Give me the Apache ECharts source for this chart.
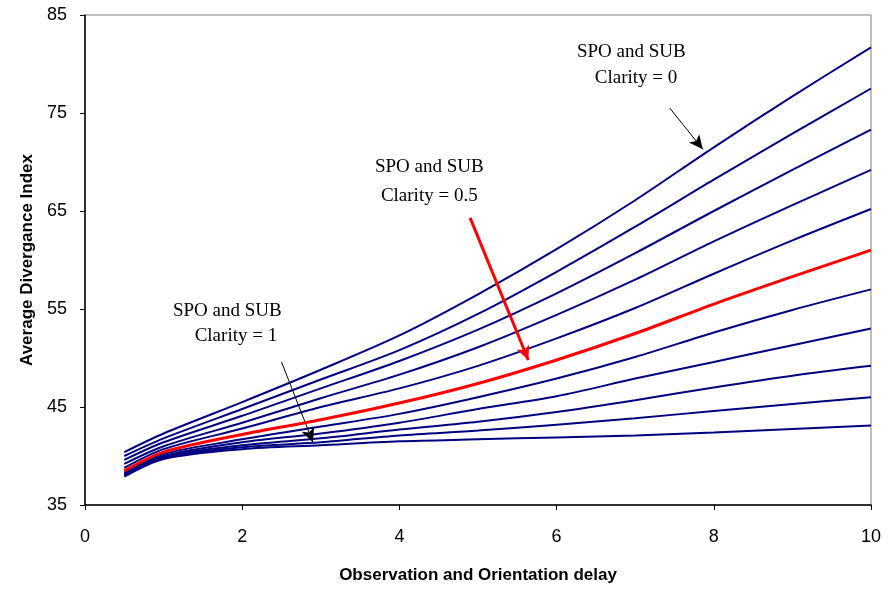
<!DOCTYPE html>
<html lang="en">
<head>
    <meta charset="UTF-8">
    <title>Average Divergance Index</title>
    <script src="https://cdn.jsdelivr.net/npm/echarts@6/dist/echarts.min.js"></script>
    <style>
        html, body { margin: 0; padding: 0; background: #fff; }
        #main { width: 888px; height: 589px; }
    </style>
</head>
<body>
<div id="main"></div>
<script>
// observation and orientation delay
var delays = [0.5, 1, 2, 3, 4, 5, 6, 7, 8, 9, 10];

// one curve per clarity level, 0 at the top, 1 at the bottom
var clarity00 = [40.4, 42.3, 45.5, 48.8, 52.3, 56.5, 61.1, 66.1, 71.5, 76.7, 81.7];
var clarity01 = [40.0, 41.8, 44.8, 47.8, 50.8, 54.5, 58.8, 63.4, 68.2, 72.9, 77.5];
var clarity02 = [39.6, 41.4, 44.1, 46.9, 49.7, 52.9, 56.6, 60.7, 65.0, 69.2, 73.3];
var clarity03 = [39.2, 41.0, 43.4, 45.9, 48.3, 51.1, 54.4, 58.0, 61.9, 65.6, 69.2];
var clarity04 = [38.8, 40.7, 42.8, 45.0, 46.9, 49.2, 52.0, 55.1, 58.6, 62.0, 65.2];
var clarity05 = [38.5, 40.4, 42.2, 43.7, 45.4, 47.4, 49.8, 52.5, 55.5, 58.3, 61.0];
var clarity06 = [38.3, 40.2, 41.7, 43.0, 44.3, 46.0, 47.9, 50.1, 52.6, 54.9, 57.0];
var clarity07 = [38.2, 40.0, 41.4, 42.3, 43.4, 44.8, 46.1, 47.9, 49.6, 51.3, 53.0];
var clarity08 = [38.1, 39.9, 41.1, 41.8, 42.7, 43.5, 44.5, 45.7, 47.0, 48.2, 49.2];
var clarity09 = [38.0, 39.8, 40.9, 41.4, 42.1, 42.6, 43.2, 43.85, 44.6, 45.3, 46.0];
var clarity10 = [37.9, 39.7, 40.7, 41.1, 41.5, 41.7, 41.9, 42.1, 42.4, 42.75, 43.1];

var curves = [clarity00, clarity01, clarity02, clarity03, clarity04, clarity05,
              clarity06, clarity07, clarity08, clarity09, clarity10];

var xTicks = [0, 2, 4, 6, 8, 10];
var yTicks = [35, 45, 55, 65, 75, 85];

var navy = '#000080';
var red = '#ff0000';
var serif = '"Liberation Serif", "Times New Roman", serif';
var sans = '"Liberation Sans", Arial, sans-serif';

function note(x, y, text) {
    return {
        coord: [x, y],
        symbolSize: 0,
        label: {
            show: true,
            position: 'inside',
            formatter: text,
            color: '#000',
            fontFamily: serif,
            fontSize: 19
        }
    };
}

function arrow(from, to, color, width) {
    return {
        silent: true,
        symbol: ['none', 'arrow'],
        symbolSize: [10, 14],
        label: { show: false },
        lineStyle: { color: color, width: width, type: 'solid' },
        emphasis: { disabled: true },
        data: [[{ coord: from }, { coord: to }]]
    };
}

var series = [];
for (var i = 0; i < curves.length; i ++) {
    var pts = [];
    for (var j = 0; j < delays.length; j ++) {
        pts.push([delays[j], curves[i][j]]);
    }
    var isRed = (i == 5);
    series.push({
        name: 'Clarity ' + (i / 10),
        type: 'line',
        data: pts,
        smooth: 0.3,
        showSymbol: false,
        symbol: 'none',
        z: isRed ? 5 : 2,
        lineStyle: { color: isRed ? red : navy, width: isRed ? 3 : 2 },
        emphasis: { disabled: true }
    });
}

// annotations, in data coordinates
series[0].markPoint = {
    silent: true,
    data: [note(6.95, 81.2, 'SPO and SUB'), note(7.01, 78.6, 'Clarity = 0')]
};
series[0].markLine = arrow([7.44, 75.5], [7.86, 71.3], '#000', 1);

series[5].markPoint = {
    silent: true,
    data: [note(4.38, 69.5, 'SPO and SUB'), note(4.38, 66.5, 'Clarity = 0.5')]
};
series[5].markLine = arrow([4.9, 64.3], [5.64, 49.8], red, 3);

series[10].markPoint = {
    silent: true,
    data: [note(1.81, 54.8, 'SPO and SUB'), note(1.92, 52.2, 'Clarity = 1')]
};
series[10].markLine = arrow([2.5, 49.6], [2.9, 41.4], '#000', 1);

var myChart = echarts.init(document.getElementById('main'));

var option = {
    animation: false,
    backgroundColor: '#fff',
    grid: {
        left: 85,
        right: 17,
        top: 15,
        bottom: 84,
        show: true,
        borderColor: '#808080',
        borderWidth: 1
    },
    xAxis: {
        type: 'value',
        min: xTicks[0],
        max: xTicks[xTicks.length - 1],
        interval: 2,
        name: 'Observation and Orientation delay',
        nameLocation: 'middle',
        nameGap: 62,
        nameTextStyle: { color: '#000', fontFamily: sans, fontSize: 17, fontWeight: 'bold' },
        axisLine: { show: true, lineStyle: { color: '#000', width: 1.5 } },
        axisTick: { show: true, length: 5, lineStyle: { color: '#000' } },
        axisLabel: { color: '#000', fontFamily: sans, fontSize: 18, margin: 23 },
        splitLine: { show: false }
    },
    yAxis: {
        type: 'value',
        min: yTicks[0],
        max: yTicks[yTicks.length - 1],
        interval: 10,
        name: 'Average Divergance Index',
        nameLocation: 'middle',
        nameGap: 42,
        nameTextStyle: { color: '#000', fontFamily: sans, fontSize: 17, fontWeight: 'bold' },
        axisLine: { show: true, lineStyle: { color: '#000', width: 1.5 } },
        axisTick: { show: true, length: 5, lineStyle: { color: '#000' } },
        axisLabel: { color: '#000', fontFamily: sans, fontSize: 18, margin: 18 },
        splitLine: { show: false }
    },
    series: series
};

myChart.setOption(option);
</script>
</body>
</html>
